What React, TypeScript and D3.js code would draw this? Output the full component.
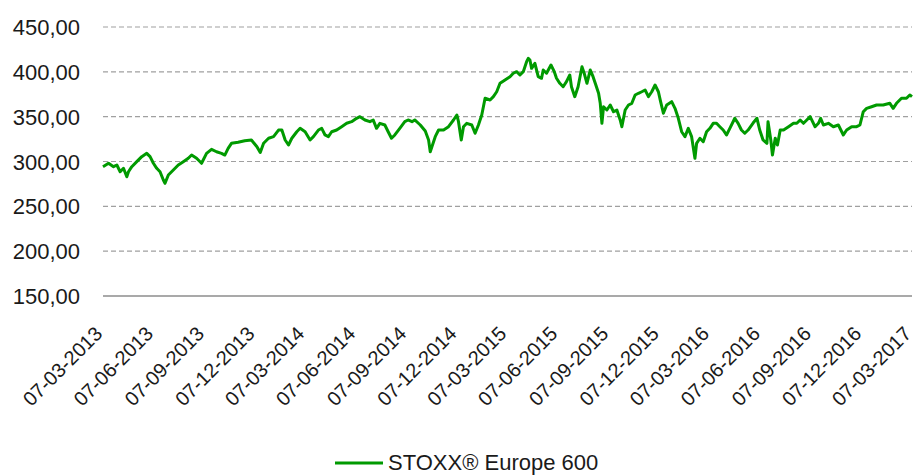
import React from "react";
import * as d3 from "d3";

const START_DATE = "2013-03-07";
const dayOffsets = [
  0, 10, 19, 25, 31, 37, 43, 46, 52, 61, 70, 79, 85, 91, 97, 103, 109, 112, 118, 127,
  136, 145, 154, 160, 169, 178, 187, 196, 205, 214, 220, 226, 232, 244, 256, 268, 278, 284, 290, 299,
  308, 317, 323, 329, 335, 341, 350, 356, 365, 374, 380, 389, 395, 401, 407, 413, 422, 431, 440, 449,
  458, 464, 473, 482, 488, 494, 500, 509, 515, 521, 527, 536, 545, 551, 558, 563, 573, 582, 588, 591,
  594, 600, 606, 615, 624, 633, 639, 642, 647, 651, 657, 666, 672, 678, 684, 690, 699, 705, 711, 717,
  726, 735, 741, 747, 753, 759, 765, 768, 771, 774, 780, 786, 792, 795, 801, 809, 815, 819, 825, 831,
  837, 843, 846, 852, 858, 865, 869, 874, 880, 885, 889, 895, 898, 901, 904, 910, 916, 922, 928, 934,
  937, 943, 949, 955, 961, 967, 973, 979, 985, 991, 997, 1003, 1007, 1012, 1018, 1027, 1033, 1039, 1045, 1051,
  1057, 1063, 1069, 1072, 1078, 1084, 1090, 1096, 1102, 1108, 1114, 1120, 1126, 1132, 1141, 1147, 1153, 1159, 1165, 1174,
  1181, 1186, 1192, 1199, 1201, 1206, 1209, 1214, 1218, 1223, 1229, 1238, 1247, 1253, 1259, 1265, 1271, 1277, 1286, 1292,
  1296, 1301, 1310, 1319, 1328, 1337, 1343, 1352, 1361, 1367, 1373, 1379, 1388, 1397, 1409, 1421, 1427, 1433, 1442, 1451,
  1457, 1461,
];
const stoxxValues = [
  294.2, 298.0, 294.2, 296.1, 288.6, 292.4, 283.0, 288.6, 294.2, 299.8, 305.4, 309.1, 305.4, 298.0, 292.4, 288.6, 279.4, 275.7, 284.9, 290.5,
  296.1, 299.8, 303.6, 307.2, 303.6, 298.0, 309.1, 313.6, 310.9, 309.1, 307.2, 314.7, 320.3, 321.4, 323.2, 324.0, 316.5, 310.0, 320.3, 325.9,
  327.7, 335.1, 335.1, 324.0, 318.4, 325.9, 333.2, 337.0, 333.2, 324.0, 327.7, 335.1, 337.0, 329.6, 327.7, 333.2, 335.1, 338.8, 342.6, 344.4,
  348.2, 350.0, 346.3, 344.4, 346.3, 337.0, 342.6, 340.7, 333.2, 325.9, 329.6, 337.0, 344.4, 346.3, 344.4, 346.3, 340.7, 334.0, 324.0, 310.9,
  316.5, 327.7, 335.1, 335.1, 338.8, 346.3, 351.9, 344.4, 324.0, 338.8, 342.6, 340.7, 331.5, 340.7, 351.9, 370.5, 368.6, 372.3, 377.8, 387.2,
  390.9, 394.6, 398.4, 400.2, 396.5, 400.2, 411.3, 415.1, 413.2, 403.9, 409.5, 394.6, 392.8, 402.1, 398.4, 407.6, 400.2, 392.8, 387.2, 383.4,
  389.0, 396.5, 383.4, 372.3, 383.4, 405.7, 398.4, 387.2, 402.1, 394.6, 387.2, 376.1, 364.9, 342.6, 361.1, 357.4, 363.0, 355.5, 357.4, 346.3,
  338.8, 357.4, 363.0, 364.9, 374.2, 376.1, 377.8, 379.7, 372.3, 377.8, 385.3, 377.8, 366.7, 353.8, 363.0, 366.7, 359.3, 348.2, 333.2, 327.7,
  337.0, 327.7, 303.6, 320.3, 325.9, 322.1, 333.2, 337.0, 342.6, 342.6, 338.8, 335.1, 329.6, 337.0, 348.2, 342.6, 335.1, 331.5, 335.1, 342.9,
  348.2, 335.1, 324.0, 320.3, 344.4, 324.0, 307.2, 325.9, 318.4, 335.1, 335.1, 338.8, 342.6, 342.6, 346.3, 342.6, 346.3, 350.0, 338.8, 342.6,
  348.2, 340.7, 342.6, 338.8, 340.7, 329.6, 335.1, 338.8, 338.8, 340.7, 355.5, 359.3, 361.1, 363.0, 363.0, 364.9, 359.3, 364.9, 370.5, 370.5,
  374.2, 372.3,
];
const xTickLabels = [
  "07-03-2013", "07-06-2013", "07-09-2013", "07-12-2013",
  "07-03-2014", "07-06-2014", "07-09-2014", "07-12-2014",
  "07-03-2015", "07-06-2015", "07-09-2015", "07-12-2015",
  "07-03-2016", "07-06-2016", "07-09-2016", "07-12-2016",
  "07-03-2017",
];
const yTicks = [150, 200, 250, 300, 350, 400, 450];
const seriesName = "STOXX® Europe 600";

const W = 916;
const H = 475;
const LEFT = 103;
const RIGHT = 912;
const TOP = 27;
const BOTTOM = 296;
const FONT = "'Liberation Sans', Arial, sans-serif";
const GREEN = "#009a00";

export default function App() {
  const parseTick = d3.timeParse("%d-%m-%Y");
  const start = d3.timeParse("%Y-%m-%d")(START_DATE) as Date;
  const tickDates = xTickLabels.map((s) => parseTick(s) as Date);
  const x = d3
    .scaleTime()
    .domain([tickDates[0], tickDates[tickDates.length - 1]])
    .range([LEFT, RIGHT]);
  const y = d3.scaleLinear().domain([150, 450]).range([BOTTOM, TOP]);
  const fmt = d3
    .formatLocale({ decimal: ",", thousands: ".", grouping: [3], currency: ["", "€"] })
    .format(".2f");

  const data = dayOffsets.map((d, i) => ({
    date: d3.timeDay.offset(start, d),
    value: stoxxValues[i],
  }));
  const line = d3
    .line<{ date: Date; value: number }>()
    .x((d) => x(d.date))
    .y((d) => y(d.value));

  return (
    <svg
      width={W}
      height={H}
      style={{ position: "absolute", left: 0, top: 0, background: "#fff" }}
      fontFamily={FONT}
    >
      {yTicks.map((t) => (
        <g key={t}>
          <line
            x1={LEFT}
            x2={RIGHT}
            y1={y(t)}
            y2={y(t)}
            stroke={t === 150 ? "#8c8c8c" : "#a0a0a0"}
            strokeWidth={t === 150 ? 1.5 : 1.2}
            strokeDasharray={t === 150 ? undefined : "5,3"}
          />
          <text x={80} y={y(t) + 8} textAnchor="end" fontSize={22} fill="#1a1a1a">
            {fmt(t)}
          </text>
        </g>
      ))}
      {tickDates.map((d, i) => (
        <text
          key={xTickLabels[i]}
          transform={`translate(${x(d) + 0.5},${335}) rotate(-45)`}
          textAnchor="end"
          fontSize={20}
          fill="#1a1a1a"
        >
          {xTickLabels[i]}
        </text>
      ))}
      <path
        d={line(data) || ""}
        fill="none"
        stroke={GREEN}
        strokeWidth={3}
        strokeLinejoin="round"
      />
      <line x1={335} x2={383} y1={463} y2={463} stroke={GREEN} strokeWidth={3} />
      <text x={388} y={470} fontSize={22} fill="#1a1a1a">
        {seriesName}
      </text>
    </svg>
  );
}
